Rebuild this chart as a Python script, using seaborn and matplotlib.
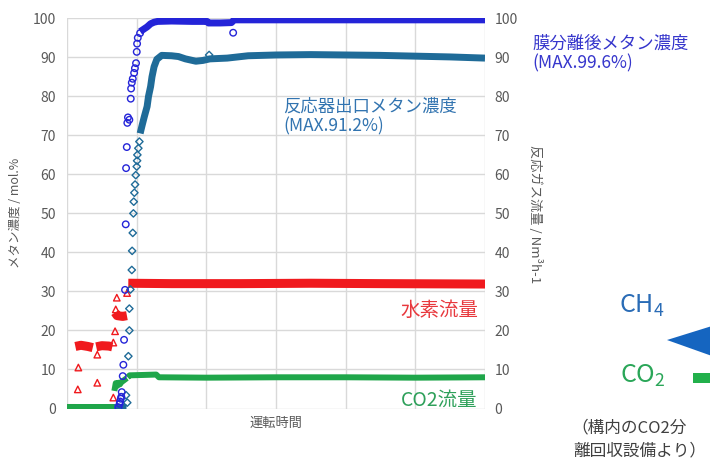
import numpy as np
import pandas as pd
import seaborn as sns
import matplotlib.pyplot as plt
from matplotlib.patches import Polygon, Rectangle

# ---------------- data ----------------
TIME_TICKS = [0, 100, 200, 300, 400, 500, 600]
Y_TICKS = list(range(0, 101, 10))

# membrane-separated methane concentration (blue circles)
blue_pts_t = [74, 75.5, 76.2, 77.2, 78.0, 78.6, 80.0, 80.9, 81.9, 83.3, 84.3, 84.8, 85.8, 86.6,
              87.5, 89.5, 91.5, 92.0, 93.0, 94.4, 96.3, 97.5, 99.1, 100.1, 100.6, 101.6, 104.9, 238.5]
blue_pts_v = [0.3, 1.2, 1.8, 2.5, 3.0, 4.2, 8.3, 11.2, 17.6, 30.4, 47.2, 61.6, 67.0, 73.2,
              74.6, 74.0, 79.4, 82.0, 83.5, 84.5, 86.0, 87.2, 88.5, 91.4, 93.5, 95.0, 96.2, 96.3]
blue_band_t = [[105, 110, 115, 120, 125, 130, 150, 180, 201, 203, 220, 236, 240, 300, 400, 500, 600]]
blue_band_v = [[96.6, 97.2, 97.8, 98.6, 99.0, 99.2, 99.3, 99.2, 99.2, 98.8, 98.8, 98.9, 99.6, 99.6, 99.6, 99.6, 99.6]]

# reactor outlet methane concentration (teal diamonds)
teal_pts_t = [84.8, 86.5, 88.1, 89.5, 89.5, 91.0, 93.0, 93.5, 94.4, 95.3, 95.8, 96.7, 97.7, 98.7,
              100.1, 100.6, 101.0, 102.4, 103.9, 204]
teal_pts_v = [3.4, 1.5, 13.4, 20.0, 25.6, 30.5, 35.5, 40.4, 45.0, 50.0, 53.0, 55.3, 57.4, 59.8,
              62.0, 63.5, 65.0, 66.7, 68.4, 90.6]
teal_band_t = [[0, 84],
               [105, 108, 111, 115, 117, 120, 122, 125, 129, 136, 150, 160, 170, 185, 195, 205,
                230, 260, 300, 350, 400, 450, 500, 550, 600]]
teal_band_v = [[0.3, 0.3],
               [70.5, 72.7, 74.8, 77.4, 80.0, 82.5, 85.0, 87.6, 89.5, 90.5, 90.4, 90.2, 89.6, 89.0,
                89.2, 89.6, 89.8, 90.4, 90.6, 90.7, 90.6, 90.5, 90.3, 90.1, 89.8]]

# hydrogen flow (red triangles)
red_pts_t = [15.5, 16.3, 43.5, 43.5, 66.5, 66.5, 69.0, 70.0, 71.5, 86.2]
red_pts_v = [4.9, 10.5, 13.8, 6.6, 2.8, 16.9, 19.8, 25.4, 28.4, 29.6]
red_band_t = [[0, 11], [12, 20, 30, 37], [42, 50, 60, 65], [69, 72, 80, 86],
              [88, 150, 250, 350, 450, 600]]
red_band_v = [[0.2, 0.2], [15.9, 16.2, 15.9, 15.6], [15.8, 16.1, 16.0, 15.8], [24.6, 23.8, 23.6, 23.8],
              [32.1, 32.0, 32.0, 32.1, 32.0, 31.9]]

# CO2 flow (green)
green_band_t = [[0, 68], [68, 70, 72, 74, 76, 78, 80, 83, 86],
                [87, 90, 110, 128, 132, 200, 300, 400, 500, 600]]
green_band_v = [[0.5, 0.5], [4.5, 6.5, 5.8, 6.6, 6.2, 6.8, 7.0, 7.4, 7.8],
                [8.0, 8.5, 8.6, 8.7, 8.0, 7.9, 8.0, 8.0, 7.9, 8.0]]

# ---------------- styling ----------------
sns.set_theme(style="white")
plt.rcParams['font.family'] = ['Noto Sans CJK JP', 'DejaVu Sans']
plt.rcParams['mathtext.default'] = 'regular'

C_BLUE = "#2424d8"
C_TEAL = "#1f6b98"
C_RED = "#f01a1e"
C_GREEN = "#1fa64a"
C_GRID = "#d9d9d9"
C_TXT = "#595959"

W, H = 710, 459
fig = plt.figure(figsize=(W / 100, H / 100), dpi=100)
fig.patch.set_facecolor("white")


def fx(px):
    return px / W


def fy(py):
    return 1 - py / H


ax = fig.add_axes([fx(67), fy(408.5), fx(485) - fx(67), fy(18.3) - fy(408.5)])


def band_df(ts, vs):
    rows = []
    for i, (tt, vv) in enumerate(zip(ts, vs)):
        for a, b in zip(tt, vv):
            rows.append({"t": a, "v": b, "seg": i})
    return pd.DataFrame(rows)


def draw_band(ts, vs, color, lw, z):
    d = band_df(ts, vs)
    sns.lineplot(data=d, x="t", y="v", units="seg", estimator=None, sort=False,
                 color=color, linewidth=lw, ax=ax, legend=False, zorder=z,
                 solid_capstyle="butt")


# teal
draw_band(teal_band_t, teal_band_v, C_TEAL, 5.0, 3)
sns.scatterplot(x=teal_pts_t, y=teal_pts_v, marker="D", s=14, facecolor="none",
                edgecolor=C_TEAL, linewidth=1.0, ax=ax, zorder=5)
# red
draw_band(red_band_t, red_band_v, C_RED, 6.5, 4)
sns.scatterplot(x=red_pts_t, y=red_pts_v, marker="^", s=22, facecolor="none",
                edgecolor=C_RED, linewidth=1.0, ax=ax, zorder=4)
# green (on top at the baseline)
draw_band(green_band_t, green_band_v, C_GREEN, 4.3, 5)
# blue
draw_band(blue_band_t, blue_band_v, C_BLUE, 5.0, 6)
sns.scatterplot(x=blue_pts_t, y=blue_pts_v, marker="o", s=22, facecolor="none",
                edgecolor=C_BLUE, linewidth=1.0, ax=ax, zorder=6)

ax.set_xlim(0, 600)
ax.set_ylim(0, 100)
ax.set_xticks(TIME_TICKS)
ax.set_xticklabels([])
ax.set_yticks(Y_TICKS)
ax.set_yticklabels([str(v) for v in Y_TICKS], fontsize=10, color=C_TXT)
ax.tick_params(axis="both", length=0)
ax.tick_params(axis="y", pad=8)
ax.grid(True, color=C_GRID, linewidth=1.0)
ax.set_axisbelow(True)
for s in ax.spines.values():
    s.set_visible(False)
ax.set_xlabel("")
ax.set_ylabel("")

ax2 = ax.twinx()
ax2.set_ylim(0, 100)
ax2.set_yticks(Y_TICKS)
ax2.set_yticklabels([str(v) for v in Y_TICKS], fontsize=10, color=C_TXT)
ax2.tick_params(axis="y", length=0, pad=7)
ax2.grid(False)
for s in ax2.spines.values():
    s.set_visible(False)

# axis titles
fig.text(fx(16), fy(213), "メタン濃度 / mol.%", rotation=90, ha="center", va="center",
         fontsize=9, color=C_TXT)
fig.text(fx(535), fy(214), "反応ガス流量 / Nm³h-1", rotation=-90, ha="center", va="center",
         fontsize=9.5, color=C_TXT)
fig.text(fx(276), fy(423), "運転時間", ha="center", va="center", fontsize=9.5, color=C_TXT)

# in-chart annotations
fig.text(fx(283), fy(107), "反応器出口メタン濃度", ha="left", va="center", fontsize=12.5, color="#3274b0")
fig.text(fx(283), fy(126), "(MAX.91.2%)", ha="left", va="center", fontsize=12.5, color="#3274b0")
fig.text(fx(532), fy(44), "膜分離後メタン濃度", ha="left", va="center", fontsize=12.5, color="#3636cc")
fig.text(fx(532), fy(63), "(MAX.99.6%)", ha="left", va="center", fontsize=12.5, color="#3636cc")
fig.text(fx(478), fy(310), "水素流量", ha="right", va="center", fontsize=14, color="#e8383d")
fig.text(fx(478), fy(400), "CO2流量", ha="right", va="center", fontsize=14, color="#2ea05a")

# slide elements on the right
fig.text(fx(619), fy(313), "CH$_4$", ha="left", va="baseline", fontsize=18, color="#2a6cb6")
fig.text(fx(620), fy(383), "CO$_2$", ha="left", va="baseline", fontsize=18, color="#2aa658")
fig.patches.append(Polygon([(fx(667), fy(340)), (fx(712), fy(326)), (fx(712), fy(356))],
                           closed=True, transform=fig.transFigure, facecolor="#1565c0",
                           edgecolor="none", figure=fig))
fig.patches.append(Rectangle((fx(693), fy(383)), fx(712) - fx(693), fy(373) - fy(383),
                             transform=fig.transFigure, facecolor="#22b04b",
                             edgecolor="none", figure=fig))
fig.text(fx(571), fy(428), "（構内のCO2分", ha="left", va="center", fontsize=12, color="#404040")
fig.text(fx(573), fy(451), "離回収設備より）", ha="left", va="center", fontsize=12, color="#404040")

fig.savefig("out.png", dpi=100)
